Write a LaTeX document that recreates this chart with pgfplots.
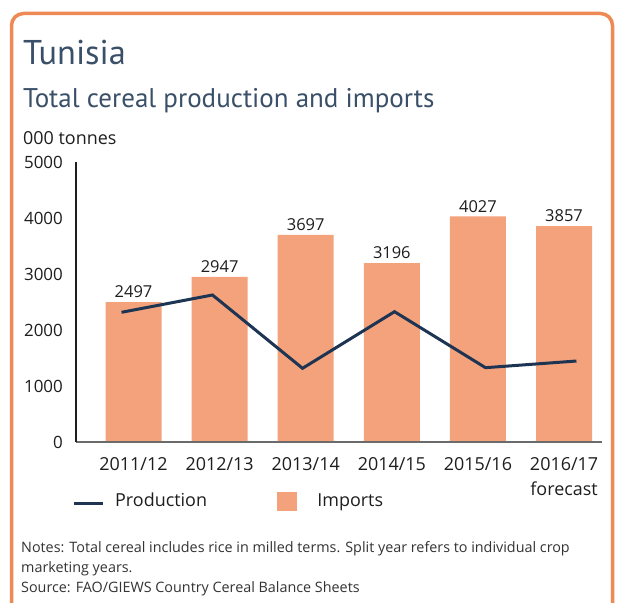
\documentclass[border=0pt]{standalone}
\usepackage{fontspec}
\setmainfont{Open Sans}
\newfontfamily\titlefont{PT Sans}
\usepackage{pgfplots}
\pgfplotsset{compat=1.18}
\definecolor{boxorange}{HTML}{EE8A56}
\definecolor{barsalmon}{HTML}{F3A27C}
\definecolor{navy}{HTML}{1D3453}
\definecolor{titleblue}{HTML}{3A4F68}
\definecolor{txt}{HTML}{1E1E1E}
\definecolor{notegray}{HTML}{333333}
\definecolor{axisgray}{HTML}{6B6B6B}
\begin{document}
\begin{tikzpicture}[x=1bp,y=1bp]
\useasboundingbox (0,0) rectangle (619,603);
\fill[white] (0,0) rectangle (619,603);
\draw[boxorange, line width=3.5bp, rounded corners=12bp] (11.5,-20) rectangle (612.5,589.5);
\node[anchor=base west, inner sep=0, text=titleblue, font=\titlefont\fontsize{34.5}{40}\selectfont] at (23,538) {Tunisia};
\node[anchor=base west, inner sep=0, text=titleblue, font=\titlefont\fontsize{27.1}{30}\selectfont] at (23,495) {Total cereal production and imports};
\node[anchor=base west, inner sep=0, text=txt, font=\fontsize{18}{20}\selectfont] at (23,458) {000 tonnes};
\node[anchor=base west, inner sep=0, text=notegray, font=\fontsize{14.4}{20}\selectfont] at (21,50) {Notes: Total cereal includes rice in milled terms. Split year refers to individual crop};
\node[anchor=base west, inner sep=0, text=notegray, font=\fontsize{14.4}{20}\selectfont] at (21,30) {marketing years.};
\node[anchor=base west, inner sep=0, text=notegray, font=\fontsize{14.4}{20}\selectfont] at (21,10) {Source: FAO/GIEWS Country Cereal Balance Sheets};
\begin{axis}[
  at={(76bp,161bp)}, anchor=south west,
  scale only axis, width=526bp, height=280bp,
  xmin=-0.668, xmax=5.441, ymin=0, ymax=5000,
  axis x line=bottom, axis y line=left,
  x axis line style={draw=axisgray, line width=2.5bp, -},
  y axis line style={draw=txt, line width=1.5bp, -},
  axis on top,
  xtick={0,1,2,3,4,5},
  xticklabels={2011/12,2012/13,2013/14,2014/15,2015/16,{2016/17\\forecast}},
  xticklabel style={font=\fontsize{18}{25}\selectfont, text=txt, align=center, anchor=north, inner sep=0pt, yshift=-15bp},
  ytick={0,1000,2000,3000,4000,5000},
  yticklabel style={font=\fontsize{17}{20}\selectfont, text=txt, anchor=east, inner sep=0pt, xshift=-13bp},
  major tick length=0pt,
  tick style={draw=none},
  scaled y ticks=false,
  /pgf/number format/1000 sep={},
  /pgf/number format/assume math mode=true,
  legend style={at={(axis description cs:-0.00665,-0.2321)}, anchor=base west, draw=none, fill=none, inner sep=0pt,
    font=\fontsize{18}{22}\selectfont, text=txt,
    nodes={inner sep=0pt, text width=162bp, align=left},
    cells={anchor=base west}, /tikz/column sep=0pt},
  legend columns=2,
]
\addlegendimage{legend image code/.code={\draw[navy, line width=3bp] (0bp,3bp) -- (29bp,3bp); \path[draw=none, fill=none] (0bp,3bp) -- (41bp,3bp);}}
\addlegendentry{Production}
\addlegendimage{legend image code/.code={\fill[barsalmon] (0bp,-3bp) rectangle (19bp,15bp); \path[draw=none, fill=none] (0bp,0bp) -- (40bp,0bp);}}
\addlegendentry{Imports}
\addplot[ybar, bar width=56bp, fill=barsalmon, draw=none, forget plot,
  nodes near coords, point meta=y,
  every node near coord/.append style={font=\fontsize{16.5}{20}\selectfont, text=txt, anchor=south, inner sep=0pt, yshift=4bp}]
  coordinates {(0,2497) (1,2947) (2,3697) (3,3196) (4,4027) (5,3857)};
\addplot[navy, line width=3bp, mark=none, sharp plot, forget plot]
  coordinates {(-0.139,2316) (0.917,2625) (1.963,1316) (3.031,2327) (4.088,1327) (5.144,1446)};
\end{axis}
\end{tikzpicture}
\end{document}
